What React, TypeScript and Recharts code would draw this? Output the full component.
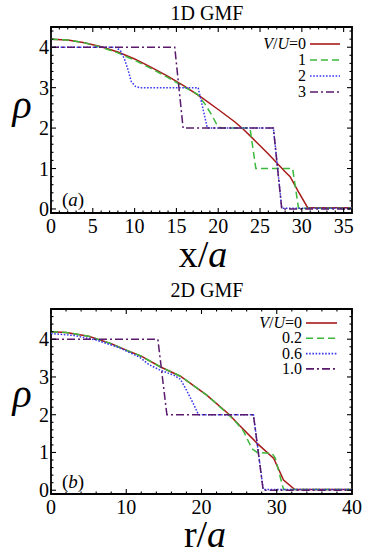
import React from "react";
import { LineChart, Line, XAxis, YAxis, ReferenceArea, Legend } from "recharts";

// ---------- DATA: panel (a) 1D GMF ----------
const a_x_v0 = [0, 2, 4, 6, 8, 10, 12, 14, 16, 18, 20, 22, 23, 24, 26, 28, 28.6, 29.6, 30.7, 36];
const a_y_v0 = [4.2, 4.18, 4.11, 4.01, 3.88, 3.71, 3.5, 3.28, 3.03, 2.76, 2.46, 2.15, 1.97, 1.77, 1.36, 0.92, 0.8, 0.42, 0.03, 0.03];
const a_x_v1 = [0, 2, 4, 6, 8, 10, 12, 14, 16, 17.5, 18.4, 19.2, 19.8, 20.3, 23.8, 24.5, 28.9, 29.6, 36];
const a_y_v1 = [4.2, 4.18, 4.11, 4.0, 3.86, 3.68, 3.47, 3.25, 3.01, 2.84, 2.6, 2.33, 2.1, 2.0, 2.0, 1.0, 1.0, 0.02, 0.02];
const a_x_v2 = [0, 7.7, 8.3, 8.8, 9.2, 9.6, 10.1, 10.6, 17.6, 18.7, 26.6, 27.6, 36];
const a_y_v2 = [4, 4, 3.92, 3.7, 3.45, 3.15, 3.03, 3.0, 3.0, 2.0, 2.0, 0.02, 0.02];
const a_x_v3 = [0, 14.8, 15.8, 26.6, 27.6, 36];
const a_y_v3 = [4, 4, 2, 2, 0, 0];
const a_names = ["V/U=0", "1", "2", "3"];

// ---------- DATA: panel (b) 2D GMF ----------
const b_x_v0 = [0, 2, 5, 8, 10, 12, 14.5, 17.2, 20.7, 23.6, 25, 27.4, 29.6, 30.9, 32.4, 40];
const b_y_v0 = [4.2, 4.18, 4.08, 3.88, 3.71, 3.55, 3.27, 3.02, 2.52, 2.02, 1.73, 1.24, 0.84, 0.27, 0.02, 0.02];
const b_x_v02 = [0, 2, 5, 8, 10, 12, 14.5, 17.2, 20.7, 23.6, 24.6, 25.6, 26.7, 27.4, 29.4, 29.8, 30.9, 40];
const b_y_v02 = [4.2, 4.18, 4.08, 3.88, 3.71, 3.55, 3.27, 3.02, 2.52, 2.0, 1.8, 1.56, 1.1, 1.0, 0.97, 0.85, 0.02, 0.02];
const b_x_v06 = [0, 3, 6, 9, 11.8, 13, 14.5, 16.3, 17.2, 18, 18.9, 19.6, 26.9, 28.2, 40];
const b_y_v06 = [4.15, 4.1, 3.98, 3.78, 3.52, 3.33, 3.18, 3.05, 2.94, 2.65, 2.3, 2.0, 2.0, 0.02, 0.02];
const b_x_v10 = [0, 14.2, 15.4, 26.9, 28.2, 40];
const b_y_v10 = [4, 4, 2, 2, 0, 0];
const b_names = ["V/U=0", "0.2", "0.6", "1.0"];

// ---------- TICKS ----------
const a_xMajor = [0, 5, 10, 15, 20, 25, 30, 35];
const b_xMajor = [0, 10, 20, 30, 40];
const yMajor = [0, 1, 2, 3, 4];
const a_xTicks = Array.from({ length: 37 }, (_, i) => i);
const b_xTicks = Array.from({ length: 21 }, (_, i) => i * 2);
const a_yTicks = Array.from({ length: 23 }, (_, i) => Math.round(i * 2) / 10);
const b_yTicks = Array.from({ length: 25 }, (_, i) => Math.round(i * 2) / 10);

const zip = (xs: number[], ys: number[]) => xs.map((x, i) => ({ x, y: ys[i] }));

const COLORS = ["#a81a1a", "#3cb83c", "#3838f0", "#5a1a6c"];
const DASHES = ["", "7 4", "1.6 1.6", "8 3 2 3"];
const FONT = "Liberation Serif, Times New Roman, Times, DejaVu Serif, serif";

const W = 371;
const PH = 278;

function makeXTick(top: number, bottom: number, majors: number[]) {
  return (props: any) => {
    const { x, payload } = props;
    const v = payload.value;
    const major = majors.includes(v);
    const len = major ? 5 : 2.5;
    return (
      <g>
        <line x1={x} x2={x} y1={bottom} y2={bottom - len} stroke="#000" strokeWidth={1.1} />
        <line x1={x} x2={x} y1={top} y2={top + len} stroke="#000" strokeWidth={1.1} />
        {major && (
          <text x={x} y={bottom + 20} textAnchor="middle" style={{ fontFamily: FONT, fontSize: 20 }} fill="#000">
            {v}
          </text>
        )}
      </g>
    );
  };
}

function makeYTick(left: number, right: number, majors: number[]) {
  return (props: any) => {
    const { y, payload } = props;
    const v = payload.value;
    const major = majors.includes(v);
    const len = major ? 5 : 2.5;
    return (
      <g>
        <line x1={left} x2={left + len} y1={y} y2={y} stroke="#000" strokeWidth={1.1} />
        <line x1={right} x2={right - len} y1={y} y2={y} stroke="#000" strokeWidth={1.1} />
        {major && (
          <text x={left - 2} y={y + 7} textAnchor="end" style={{ fontFamily: FONT, fontSize: 20 }} fill="#000">
            {v}
          </text>
        )}
      </g>
    );
  };
}

function renderName(name: string) {
  if (name.startsWith("V/U")) {
    return (
      <>
        <tspan fontStyle="italic">V</tspan>
        <tspan>/</tspan>
        <tspan fontStyle="italic">U</tspan>
        <tspan>{name.slice(3)}</tspan>
      </>
    );
  }
  return name;
}

function makeLegend(names: string[], textRight: number, lx1: number, lx2: number, row0: number, step: number) {
  return (props: any) => {
    const payload = [...(props.payload || [])].sort(
      (p: any, q: any) => names.indexOf(String(p.value)) - names.indexOf(String(q.value))
    );
    return (
      <svg width={160} height={75} style={{ overflow: "visible", display: "block" }}>
        {payload.map((e: any, i: number) => {
          const cy = row0 + i * step;
          const dash = e.payload?.strokeDasharray;
          return (
            <g key={i}>
              <text x={textRight} y={cy + 5} textAnchor="end" style={{ fontFamily: FONT, fontSize: 16 }} fill="#000">
                {renderName(String(e.value))}
              </text>
              <line x1={lx1} x2={lx2} y1={cy} y2={cy} stroke={e.color} strokeWidth={1.6} strokeDasharray={dash || undefined} />
            </g>
          );
        })}
      </svg>
    );
  };
}

function Panel(props: {
  series: { x: number[]; y: number[] }[];
  names: string[];
  xDomain: [number, number];
  yDomain: [number, number];
  xTicks: number[];
  xMajor: number[];
  yTicks: number[];
  top: number;
  bottom: number;
  legend: (p: any) => any;
  legendTop: number;
}) {
  const left = 51;
  const right = 352;
  const m = { top: props.top, right: W - right, bottom: PH - props.bottom - 30, left: left - 40 };
  return (
    <LineChart width={W} height={PH} margin={m}>
      <XAxis
        type="number"
        dataKey="x"
        domain={props.xDomain}
        ticks={props.xTicks}
        interval={0}
        height={30}
        axisLine={false}
        tickLine={false}
        tick={makeXTick(props.top, props.bottom, props.xMajor)}
      />
      <YAxis
        type="number"
        dataKey="y"
        domain={props.yDomain}
        ticks={props.yTicks}
        interval={0}
        width={40}
        axisLine={false}
        tickLine={false}
        tick={makeYTick(left, right, yMajor)}
      />
      {props.series.map((s, i) => (
        <Line
          key={i}
          data={zip(s.x, s.y)}
          dataKey="y"
          name={props.names[i]}
          type="linear"
          stroke={COLORS[i]}
          strokeWidth={1.5}
          strokeDasharray={DASHES[i] || undefined}
          dot={false}
          activeDot={false}
          isAnimationActive={false}
        />
      ))}
      <ReferenceArea
        x1={props.xDomain[0]}
        x2={props.xDomain[1]}
        y1={props.yDomain[0]}
        y2={props.yDomain[1]}
        fill="none"
        stroke="#000"
        strokeWidth={1.8}
        fillOpacity={0}
        strokeOpacity={1}
      />
      <Legend
        layout="vertical"
        align="center"
        verticalAlign="middle"
        wrapperStyle={{ left: 200, top: props.legendTop, width: 160, height: 75 }}
        content={props.legend}
      />
    </LineChart>
  );
}

export default function App() {
  const tStyle = (size: number, italic = false) => ({ fontFamily: FONT, fontSize: size, fontStyle: italic ? "italic" : "normal" });
  return (
    <div style={{ position: "absolute", left: 0, top: 0, width: W, height: 556, background: "#fff" }}>
      <div style={{ position: "absolute", left: 0, top: 0 }}>
        <Panel
          series={[
            { x: a_x_v0, y: a_y_v0 },
            { x: a_x_v1, y: a_y_v1 },
            { x: a_x_v2, y: a_y_v2 },
            { x: a_x_v3, y: a_y_v3 },
          ]}
          names={a_names}
          xDomain={[0, 36]}
          yDomain={[-0.1, 4.5]}
          xTicks={a_xTicks}
          xMajor={a_xMajor}
          yTicks={a_yTicks}
          top={27}
          bottom={213}
          legend={makeLegend(a_names, 106, 110, 140, 9, 16)}
          legendTop={35}
        />
      </div>
      <div style={{ position: "absolute", left: 0, top: PH }}>
        <Panel
          series={[
            { x: b_x_v0, y: b_y_v0 },
            { x: b_x_v02, y: b_y_v02 },
            { x: b_x_v06, y: b_y_v06 },
            { x: b_x_v10, y: b_y_v10 },
          ]}
          names={b_names}
          xDomain={[0, 40]}
          yDomain={[-0.1, 4.8]}
          xTicks={b_xTicks}
          xMajor={b_xMajor}
          yTicks={b_yTicks}
          top={31}
          bottom={216}
          legend={makeLegend(b_names, 102, 106, 137, 9, 15.3)}
          legendTop={36}
        />
      </div>
      <svg width={W} height={556} style={{ position: "absolute", left: 0, top: 0, pointerEvents: "none" }}>
        <g fill="#000">
          <text x={207} y={20} textAnchor="middle" style={tStyle(20)}>1D GMF</text>
          <text x={22} y={118} textAnchor="middle" style={tStyle(40, true)}>ρ</text>
          <text x={203} y={267} textAnchor="middle" style={tStyle(38)}>
            <tspan>x/</tspan>
            <tspan fontStyle="italic">a</tspan>
          </text>
          <text x={62} y={206} style={tStyle(19)}>
            <tspan>(</tspan>
            <tspan fontStyle="italic">a</tspan>
            <tspan>)</tspan>
          </text>
          <text x={207} y={297} textAnchor="middle" style={tStyle(20)}>2D GMF</text>
          <text x={22} y={407} textAnchor="middle" style={tStyle(40, true)}>ρ</text>
          <text x={205} y={547} textAnchor="middle" style={tStyle(38)}>
            <tspan>r/</tspan>
            <tspan fontStyle="italic">a</tspan>
          </text>
          <text x={62} y={488} style={tStyle(19)}>
            <tspan>(</tspan>
            <tspan fontStyle="italic">b</tspan>
            <tspan>)</tspan>
          </text>
        </g>
      </svg>
    </div>
  );
}
